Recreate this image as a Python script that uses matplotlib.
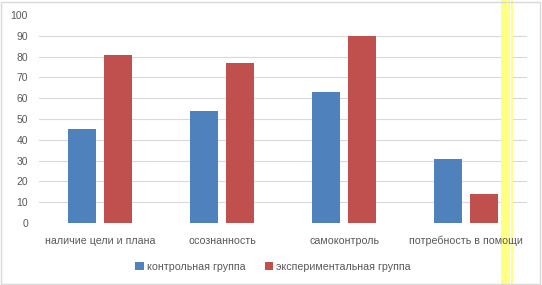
import matplotlib.pyplot as plt
import numpy as np
from matplotlib.patches import Rectangle

categories = ["наличие цели и плана", "осознанность", "самоконтроль", "потребность в помощи"]
control = [45, 54, 63, 31]
experimental = [81, 77, 90, 14]
series_names = ["контрольная группа", "экспериментальная группа"]
yticks = [0, 10, 20, 30, 40, 50, 60, 70, 80, 90, 100]

BLUE = "#4F81BD"
RED = "#C0504D"
TEXT = "#595959"

W, H = 542, 285
fig = plt.figure(figsize=(W / 100, H / 100), dpi=100)
plt.rcParams["font.family"] = ["Liberation Sans", "DejaVu Sans"]

# plot area in pixels: x 39..527, y 15..223
ax = fig.add_axes([39 / W, 1 - 223 / H, (527 - 39) / W, (223 - 15) / H])
ax.set_facecolor("none")

x = np.arange(len(categories))
bw = 0.23
ax.bar(x - 0.145, control, bw, color=BLUE, label=series_names[0], zorder=3)
ax.bar(x + 0.145, experimental, bw, color=RED, label=series_names[1], zorder=3)

ax.set_xlim(-0.5, len(categories) - 0.5)
ax.set_ylim(0, 100)
ax.set_yticks(yticks)
ax.set_yticklabels([str(v) for v in yticks], color=TEXT, fontsize=7.5)
for v in yticks[1:-1]:
    ax.axhline(v, color="#d9d9d9", lw=0.8, zorder=1)

ax.set_xticks(x)
ax.set_xticklabels(categories, color=TEXT, fontsize=7.7)
ax.tick_params(axis="both", length=0)
ax.tick_params(axis="x", pad=9)
ax.tick_params(axis="y", pad=8)
for s in ax.spines.values():
    s.set_visible(False)

fig.legend(loc="center", bbox_to_anchor=(273 / W, 1 - 267 / H), ncol=2,
           frameon=False, fontsize=7.7, labelcolor=TEXT, handlelength=0.8,
           handleheight=0.8, columnspacing=1.8, handletextpad=0.3)

# yellow highlight strip: above the gridlines (1), below the tick labels (1.5)
strips = [(501, 6, "#ffff80"), (507, 1, "white"), (508, 2, "#ffff80"),
          (510, 1, "white"), (511, 2, "#ffff80")]
for left, width, col in strips:
    ax.add_patch(Rectangle((left / W, 0), width / W, 1, transform=fig.transFigure,
                           color=col, lw=0, zorder=1.2, clip_on=False))

# outer border
fig.patches.append(Rectangle((1 / W, 1 / H), (W - 3) / W, (H - 3) / H,
                             transform=fig.transFigure, fill=False,
                             edgecolor="#d9d9d9", lw=1))

fig.savefig("out.png", dpi=100)
